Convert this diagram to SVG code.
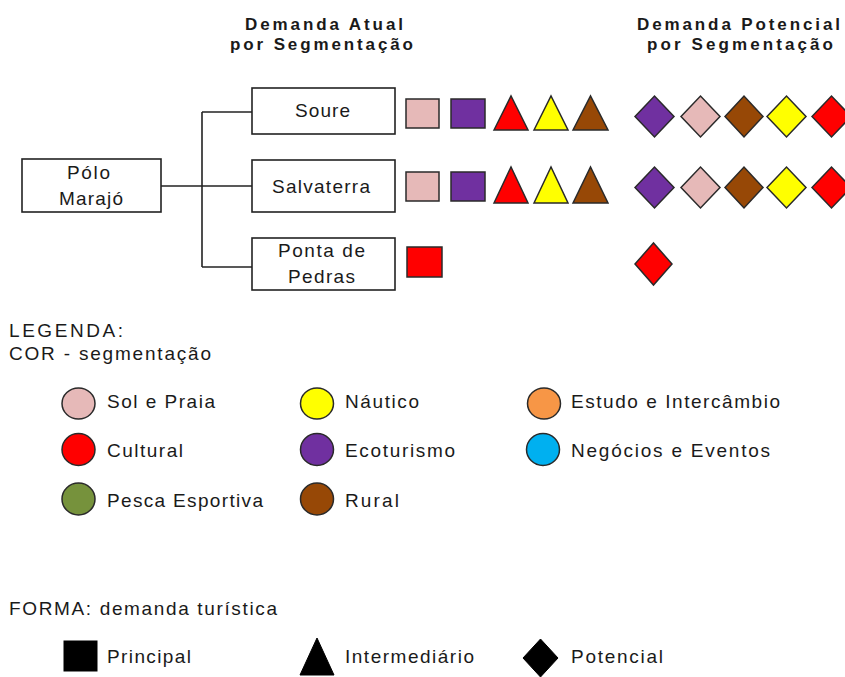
<svg xmlns="http://www.w3.org/2000/svg" width="845" height="677" viewBox="0 0 845 677">
<style>
  text { font-family: "Liberation Sans", Arial, sans-serif; fill: #1a1a1a; }
  .t { font-size: 19px; }
  .h { font-size: 17px; font-weight: bold; }
  .box { fill: #ffffff; stroke: #222; stroke-width: 1.6; }
  .con { stroke: #222; stroke-width: 1.6; fill: none; }
  .sh { stroke: #2a2a2a; stroke-width: 1.5; }
  .pink { fill: #E6B9B8; } .purple { fill: #7030A0; } .red { fill: #FF0000; }
  .yellow { fill: #FFFF00; } .brown { fill: #974806; } .orange { fill: #F79646; }
  .blue { fill: #00B0F0; } .green { fill: #76923C; } .black { fill: #000; stroke: #000; }
</style>
<rect width="845" height="677" fill="#ffffff"/>

<!-- headings -->
<text class="h" x="245" y="30" textLength="158" lengthAdjust="spacing">Demanda Atual</text>
<text class="h" x="230" y="50" textLength="183" lengthAdjust="spacing">por Segmentação</text>
<text class="h" x="637" y="30" textLength="203" lengthAdjust="spacing">Demanda Potencial</text>
<text class="h" x="647" y="50" textLength="186" lengthAdjust="spacing">por Segmentação</text>

<!-- connectors -->
<g id="connectors">
  <line class="con" x1="161" y1="186" x2="252" y2="186"/>
  <line class="con" x1="202" y1="112" x2="202" y2="267"/>
  <line class="con" x1="202" y1="112" x2="252" y2="112"/>
  <line class="con" x1="202" y1="267" x2="252" y2="267"/>
</g>

<!-- nodes -->
<g id="polo">
  <rect class="box" x="22" y="159" width="139" height="53"/>
  <text class="t" x="67" y="179" textLength="43" lengthAdjust="spacing">Pólo</text>
  <text class="t" x="59" y="205" textLength="64" lengthAdjust="spacing">Marajó</text>
</g>
<g id="soure">
  <rect class="box" x="252" y="88" width="143" height="46"/>
  <text class="t" x="295" y="117" textLength="55" lengthAdjust="spacing">Soure</text>
</g>
<g id="salvaterra">
  <rect class="box" x="252" y="160" width="143" height="52"/>
  <text class="t" x="272" y="193" textLength="98" lengthAdjust="spacing">Salvaterra</text>
</g>
<g id="ponta">
  <rect class="box" x="252" y="238" width="143" height="52"/>
  <text class="t" x="278" y="257" textLength="87" lengthAdjust="spacing">Ponta de</text>
  <text class="t" x="288" y="283" textLength="67" lengthAdjust="spacing">Pedras</text>
</g>

<!-- Soure demand -->
<g id="soure-demand">
  <rect class="sh pink" x="406" y="99" width="33" height="29"/>
  <rect class="sh purple" x="451" y="99" width="34" height="29"/>
  <polygon class="sh red" points="494,130 511,96 528,130"/>
  <polygon class="sh yellow" points="534,130 551,96 568,130"/>
  <polygon class="sh brown" points="573,130 590.5,96 608,130"/>
  <polygon class="sh purple" points="635,116.5 654.5,96 674,116.5 654.5,137"/>
  <polygon class="sh pink" points="681,116.5 700.5,96 720,116.5 700.5,137"/>
  <polygon class="sh brown" points="725,116.5 744,96 763,116.5 744,137"/>
  <polygon class="sh yellow" points="767,116.5 786.5,96 806,116.5 786.5,137"/>
  <polygon class="sh red" points="812,116.5 831.5,96 851,116.5 831.5,137"/>
</g>

<!-- Salvaterra demand -->
<g id="salvaterra-demand">
  <rect class="sh pink" x="406" y="172" width="33" height="29"/>
  <rect class="sh purple" x="451" y="172" width="34" height="29"/>
  <polygon class="sh red" points="494,203 511,167 528,203"/>
  <polygon class="sh yellow" points="534,203 551,167 568,203"/>
  <polygon class="sh brown" points="573,203 590.5,167 608,203"/>
  <polygon class="sh purple" points="635,187.5 654.5,167 674,187.5 654.5,208"/>
  <polygon class="sh pink" points="681,187.5 700.5,167 720,187.5 700.5,208"/>
  <polygon class="sh brown" points="725,187.5 744,167 763,187.5 744,208"/>
  <polygon class="sh yellow" points="767,187.5 786.5,167 806,187.5 786.5,208"/>
  <polygon class="sh red" points="812,187.5 831.5,167 851,187.5 831.5,208"/>
</g>

<!-- Ponta de Pedras demand -->
<g id="ponta-demand">
  <rect class="sh red" x="407" y="247" width="35" height="30"/>
  <polygon class="sh red" points="635,264 653.5,243 672,264 653.5,285"/>
</g>

<!-- legend: colour -->
<g id="legend-color">
  <text class="t" x="9" y="337" textLength="114" lengthAdjust="spacing">LEGENDA:</text>
  <text class="t" x="9" y="360" textLength="202" lengthAdjust="spacing">COR - segmentação</text>

  <ellipse class="sh pink" cx="78.5" cy="403.5" rx="16.5" ry="15.5"/>
  <text class="t" x="107" y="408" textLength="108" lengthAdjust="spacing">Sol e Praia</text>
  <ellipse class="sh yellow" cx="317" cy="403.5" rx="16.5" ry="15.5"/>
  <text class="t" x="345" y="408" textLength="74" lengthAdjust="spacing">Náutico</text>
  <ellipse class="sh orange" cx="544" cy="403.5" rx="16.5" ry="15.5"/>
  <text class="t" x="571" y="408" textLength="209" lengthAdjust="spacing">Estudo e Intercâmbio</text>

  <ellipse class="sh red" cx="78.5" cy="449.5" rx="16.5" ry="16"/>
  <text class="t" x="107" y="457" textLength="76" lengthAdjust="spacing">Cultural</text>
  <ellipse class="sh purple" cx="317" cy="449.5" rx="16.5" ry="16"/>
  <text class="t" x="345" y="457" textLength="110" lengthAdjust="spacing">Ecoturismo</text>
  <ellipse class="sh blue" cx="543" cy="449.5" rx="16.5" ry="16"/>
  <text class="t" x="571" y="457" textLength="199" lengthAdjust="spacing">Negócios e Eventos</text>

  <ellipse class="sh green" cx="78.5" cy="499" rx="16.5" ry="16"/>
  <text class="t" x="107" y="507" textLength="156" lengthAdjust="spacing">Pesca Esportiva</text>
  <ellipse class="sh brown" cx="317" cy="499" rx="16.5" ry="16"/>
  <text class="t" x="345" y="507" textLength="54" lengthAdjust="spacing">Rural</text>
</g>

<!-- legend: shape -->
<g id="legend-shape">
  <text class="t" x="9" y="615" textLength="268" lengthAdjust="spacing">FORMA: demanda turística</text>
  <rect class="black" x="64" y="641" width="33" height="30"/>
  <text class="t" x="107" y="663" textLength="84" lengthAdjust="spacing">Principal</text>
  <polygon class="black" points="300,675 317,638 334,675"/>
  <text class="t" x="345" y="663" textLength="129" lengthAdjust="spacing">Intermediário</text>
  <polygon class="black" points="523,658 540.5,639 558,658 540.5,677"/>
  <text class="t" x="571" y="663" textLength="92" lengthAdjust="spacing">Potencial</text>
</g>
</svg>
